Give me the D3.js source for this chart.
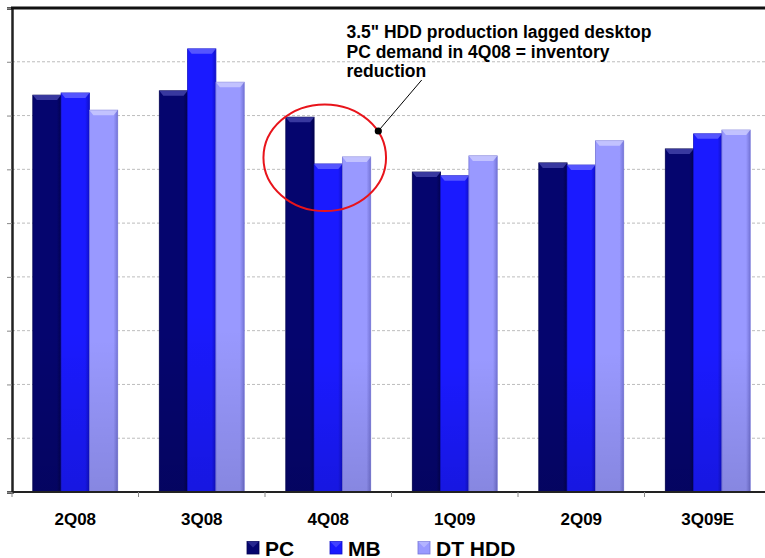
<!DOCTYPE html>
<html><head><meta charset="utf-8">
<script src="https://cdn.jsdelivr.net/npm/d3@7"></script>
<style>html,body{margin:0;padding:0;background:#fff;overflow:hidden}</style>
</head><body>
<svg id="c" width="765" height="558"></svg>
<script>
const categories = ["2Q08","3Q08","4Q08","1Q09","2Q09","3Q09E"];
const seriesNames = ["PC","MB","DT HDD"];
const pcValues = [73.8, 74.6, 69.7, 59.5, 61.2, 63.8];
const mbValues = [74.2, 82.4, 61.0, 58.8, 60.8, 66.6];
const dtValues = [71.0, 76.2, 62.3, 62.5, 65.3, 67.3];
const yTicks = [0,10,20,30,40,50,60,70,80,90];
const annotationLines = ['3.5" HDD production lagged desktop','PC demand in 4Q08 = inventory','reduction'];

(function(){
const colors = {"PC":"#05056e","MB":"#1a1aff","DT HDD":"#9999ff"};
const dark = {"PC":"#020250","MB":"#1010c8","DT HDD":"#7575d8"};
const light = {"PC":"#4a4ab0","MB":"#6a6aff","DT HDD":"#d0d0ff"};
const seriesValues = {"PC":pcValues,"MB":mbValues,"DT HDD":dtValues};

const svg = d3.select("#c");
const pLeft = 12, pRight = 771, pTop = 8, pBottom = 492;

const x = d3.scaleBand().domain(categories).range([pLeft, pRight]).padding(0);
const xs = d3.scaleBand().domain(seriesNames).range([0, x.bandwidth()]).paddingInner(0).paddingOuter(0.735);
const y = d3.scaleLinear().domain([0, 90]).range([pBottom, pTop]);

const defs = svg.append("defs");
seriesNames.forEach((s,i)=>{
  const g = defs.append("linearGradient").attr("id","g"+i).attr("x1",0).attr("x2",1).attr("y1",0).attr("y2",0);
  g.append("stop").attr("offset","0%").attr("stop-color",colors[s]);
  g.append("stop").attr("offset","85%").attr("stop-color",colors[s]);
  g.append("stop").attr("offset","100%").attr("stop-color",dark[s]);
  const v = defs.append("linearGradient").attr("id","v"+i).attr("x1",0).attr("x2",0).attr("y1",0).attr("y2",1);
  v.append("stop").attr("offset","0%").attr("stop-color","#000").attr("stop-opacity",0);
  v.append("stop").attr("offset","60%").attr("stop-color","#000").attr("stop-opacity",0);
  v.append("stop").attr("offset","100%").attr("stop-color","#000").attr("stop-opacity",0.12);
});

svg.append("g").selectAll("line").data(yTicks.filter(t=>t>0 && t<90)).join("line")
  .attr("x1", pLeft).attr("x2", pRight).attr("y1", d=>y(d)).attr("y2", d=>y(d))
  .attr("stroke","#bdbdbd").attr("stroke-dasharray","3,2").attr("stroke-width",1);

const ya = svg.append("g").attr("transform",`translate(${pLeft},0)`)
  .call(d3.axisLeft(y).tickValues(yTicks).tickSize(5).tickFormat(""));
ya.select(".domain").attr("stroke","#222").attr("stroke-width",2.5);
ya.selectAll(".tick line").attr("stroke","#888");

svg.append("line").attr("x1",pLeft-1).attr("x2",pRight).attr("y1",pTop).attr("y2",pTop)
  .attr("stroke","#111").attr("stroke-width",3);

const groups = svg.append("g").selectAll("g").data(categories).join("g")
  .attr("transform", d=>`translate(${x(d)},0)`);
seriesNames.forEach((s,i)=>{
  const vals = seriesValues[s];
  groups.append("rect")
    .attr("x", xs(s)).attr("width", xs.bandwidth())
    .attr("y", (d,j)=>y(vals[j])).attr("height", (d,j)=>y(0)-y(vals[j]))
    .attr("fill", `url(#g${i})`).attr("stroke", dark[s]).attr("stroke-width",0.8);
  groups.append("rect")
    .attr("x", xs(s)).attr("width", xs.bandwidth())
    .attr("y", (d,j)=>y(vals[j])).attr("height", (d,j)=>y(0)-y(vals[j]))
    .attr("fill", `url(#v${i})`);
  groups.append("polygon")
    .attr("points", (d,j)=>{
      const x0 = xs(s), x1 = xs(s)+xs.bandwidth(), yt = y(vals[j]);
      return `${x0},${yt} ${x1},${yt} ${x1-4},${yt+5} ${x0+4},${yt+5}`;
    })
    .attr("fill", light[s]).attr("opacity",0.75);
});

const xa = svg.append("g").attr("transform",`translate(0,${pBottom})`);
xa.append("line").attr("x1",pLeft).attr("x2",pRight).attr("stroke","#222").attr("stroke-width",2);
xa.selectAll("line.t").data(categories.concat(["end"])).join("line").attr("class","t")
  .attr("x1",(d,i)=>pLeft + i*x.step()).attr("x2",(d,i)=>pLeft + i*x.step())
  .attr("y1",0).attr("y2",5).attr("stroke","#888");
xa.selectAll("text").data(categories).join("text")
  .attr("x", d=>x(d)+x.bandwidth()/2).attr("y", 33)
  .attr("text-anchor","middle")
  .style("font-family","Liberation Sans, Arial, sans-serif").style("font-weight","bold").style("font-size","17px")
  .attr("fill","#000").text(d=>d);

const legendX = [247, 330, 418];
const lg = svg.append("g");
seriesNames.forEach((s,i)=>{
  const g = lg.append("g").attr("transform",`translate(${legendX[i]},541.5)`);
  g.append("rect").attr("width",12).attr("height",12.5).attr("fill",colors[s]).attr("stroke",dark[s]).attr("stroke-width",0.8);
  g.append("polygon").attr("points","0,0 12,0 6,6").attr("fill",light[s]).attr("opacity",0.5);
  g.append("text").attr("x",18).attr("y",14)
    .style("font-family","Liberation Sans, Arial, sans-serif").style("font-weight","bold").style("font-size","21px")
    .attr("fill","#000").text(s);
});

svg.append("ellipse").attr("cx", x("4Q08")+x.bandwidth()/2-3.5).attr("cy", 157.7)
  .attr("rx",61.3).attr("ry",53.3).attr("fill","none").attr("stroke","#e8141b").attr("stroke-width",2);
svg.append("line").attr("x1",421.7).attr("y1",80).attr("x2",378.3).attr("y2",131)
  .attr("stroke","#000").attr("stroke-width",1);
svg.append("circle").attr("cx",378.3).attr("cy",131).attr("r",3.6).attr("fill","#000");
const at = svg.append("text")
  .style("font-family","Liberation Sans, Arial, sans-serif").style("font-weight","bold").style("font-size","17.5px")
  .attr("fill","#000");
annotationLines.forEach((l,i)=>{
  at.append("tspan").attr("x",346.5).attr("y",38 + i*19.5).text(l);
});
})();
</script>
</body></html>
